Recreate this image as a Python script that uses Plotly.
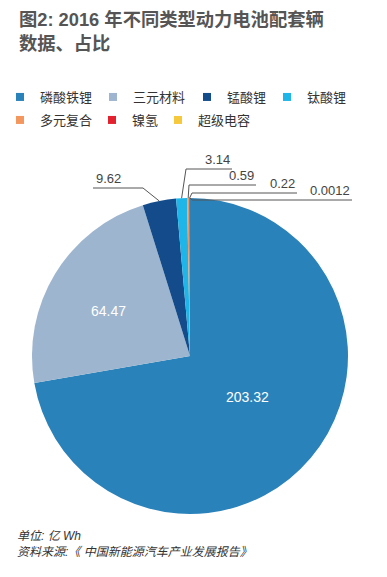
import math
import plotly.graph_objects as go

# ---- data ----
categories = ["磷酸铁锂", "三元材料", "锰酸锂", "钛酸锂", "多元复合", "镍氢", "超级电容"]
values = [203.32, 64.47, 9.62, 3.14, 0.59, 0.22, 0.0012]
value_labels = ["203.32", "64.47", "9.62", "3.14", "0.59", "0.22", "0.0012"]
colors = ["#2A82BA", "#9DB5CE", "#144C8B", "#1EB6E8", "#F4975E", "#E3222F", "#F6C83C"]

title_text = "图2: 2016 年不同类型动力电池配套辆<br>数据、占比"
foot_text = "单位: 亿 Wh<br>资料来源:《 中国新能源汽车产业发展报告》"

# ---- layout constants (page pixel coordinates; page body has 8px margin) ----
OFF = 8
FW, FH = 387 - OFF, 577 - OFF
CX, CY, R = 190, 356, 158
FONT = "Liberation Sans, Arial, Noto Sans CJK SC, sans-serif"

def px(x):
    return (x - OFF) / FW

def py(y):
    return 1 - (y - OFF) / FH

fig = go.Figure()
fig.add_trace(go.Pie(
    labels=categories, values=values, sort=False, direction="clockwise", rotation=0,
    marker=dict(colors=colors, line=dict(width=0)),
    textinfo="none", hoverinfo="label+value", showlegend=False,
    domain=dict(x=[px(CX - R), px(CX + R)], y=[py(CY + R), py(CY - R)]),
))

# legend entries, one small legend per entry for exact placement
legend_centers = [(20, 94), (113, 94), (207, 94), (287, 94), (20, 117), (112, 117), (178, 117)]
legend_layout = {}
for k, (c, col) in enumerate(zip(categories, colors)):
    lname = "legend" if k == 0 else f"legend{k + 1}"
    fig.add_trace(go.Scatter(x=[None], y=[None], mode="markers", name=c, legend=lname,
                             marker=dict(symbol="square", size=8, color=col),
                             hoverinfo="skip", showlegend=True))
    cx_, cy_ = legend_centers[k]
    legend_layout[lname] = dict(orientation="h", x=px(cx_ - 20), xanchor="left",
                                y=py(cy_ - 12), yanchor="top", bgcolor="rgba(0,0,0,0)",
                                font=dict(family=FONT, size=13, color="#333333"),
                                itemclick=False, itemdoubleclick=False)

total = sum(values)
mids = []
cum = 0.0
for v in values:
    mids.append((cum + v / 2) / total * 2 * math.pi)
    cum += v

def polar(theta, frac):
    return CX + R * frac * math.sin(theta), CY - R * frac * math.cos(theta)

shapes = []
annotations = []

# inside labels (radius fraction, angular nudge in degrees)
inside_idx = [0, 1]
inside_pos = [(0.447, -4.5), (0.59, -2.5)]
for i, (fr, dth) in zip(inside_idx, inside_pos):
    x, y = polar(mids[i] + math.radians(dth), fr)
    annotations.append(dict(x=x, y=y, xref="x", yref="y", text=value_labels[i], showarrow=False,
                            font=dict(family=FONT, size=14, color="white")))

# outside leader labels
leader_idx = [2, 3, 4, 5, 6]
elbows = [(143, 188), (186, 169), (189, 185), (192, 193), (192, 200)]
ends_x = [93, 232, 256, 297, 352]
for i, (bx, by), exn in zip(leader_idx, elbows, ends_x):
    ex, ey = polar(mids[i], 1.0)
    shapes.append(dict(type="path", xref="x", yref="y",
                       path=f"M{ex:.2f},{ey:.2f} L{bx},{by} L{exn},{by}",
                       line=dict(color="#555555", width=1)))
    annotations.append(dict(x=exn + (1 if exn < bx else 0), y=by, xref="x", yref="y",
                            text=value_labels[i], showarrow=False,
                            xanchor="left" if exn < bx else "right", yanchor="bottom",
                            font=dict(family=FONT, size=13, color="#444444")))

annotations.append(dict(x=px(17), y=py(7), xref="paper", yref="paper", xanchor="left", yanchor="top",
                        text="<b>" + title_text.replace("<br>", "</b><br><b>") + "</b>", showarrow=False,
                        align="left", font=dict(family=FONT, size=18.3, color="#555555")))
annotations.append(dict(x=px(15), y=py(527), xref="paper", yref="paper", xanchor="left", yanchor="top",
                        text="<i>" + foot_text.replace("<br>", "</i><br><i>") + "</i>", showarrow=False,
                        align="left", font=dict(family=FONT, size=12, color="#333333")))

fig.update_layout(
    width=FW, height=FH, margin=dict(l=0, r=0, t=0, b=0, autoexpand=False),
    paper_bgcolor="white", plot_bgcolor="rgba(0,0,0,0)",
    xaxis=dict(range=[OFF, OFF + FW], visible=False, fixedrange=True),
    yaxis=dict(range=[OFF + FH, OFF], visible=False, fixedrange=True),
    showlegend=True,
    shapes=shapes, annotations=annotations,
    **legend_layout,
)
fig.write_html("out.html")
